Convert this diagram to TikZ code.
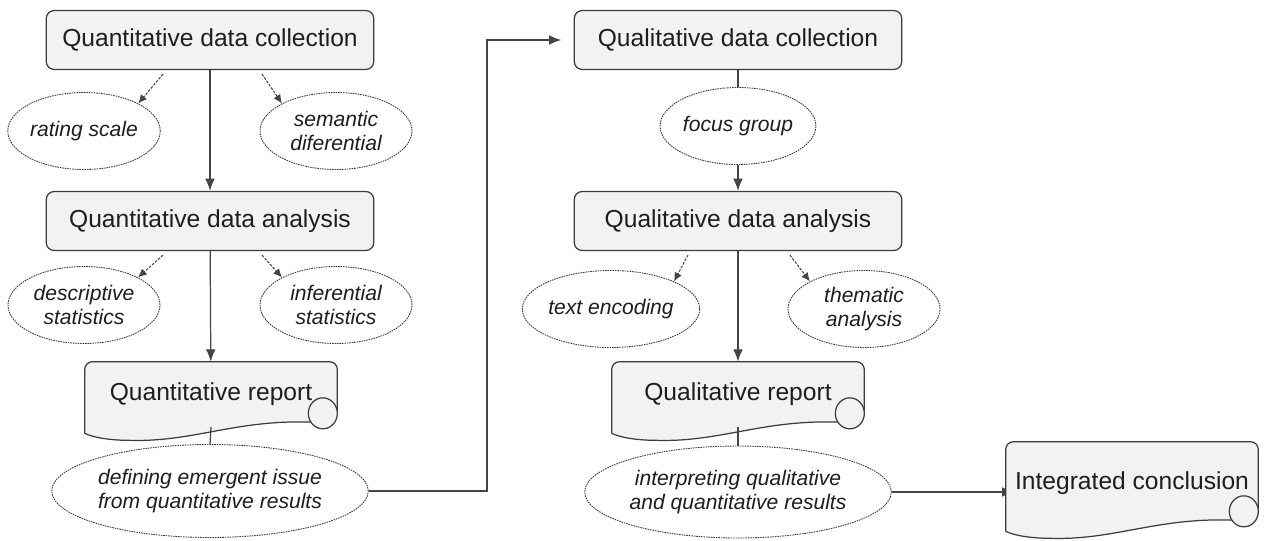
\documentclass[tikz,border=0pt]{standalone}
\usepackage{fontspec}
\setmainfont{Liberation Sans}
\usetikzlibrary{arrows.meta,calc,shapes.geometric}

\definecolor{boxfill}{HTML}{F2F2F2}
\definecolor{boxline}{HTML}{3C3C3C}
\definecolor{arrowline}{HTML}{454545}
\definecolor{inkcol}{HTML}{1E1E1E}

\tikzset{
  stagebox/.style={rectangle, rounded corners=4.5pt, draw=boxline, line width=0.7pt,
    fill=boxfill, text=inkcol, minimum width=6.55cm, minimum height=1.18cm,
    font=\fontsize{14}{16}\selectfont},
  docnode/.style={rectangle, inner sep=0pt, minimum width=5.04cm, text=inkcol,
    text height=0.76cm, text depth=0.64cm, font=\fontsize{14}{16}\selectfont},
  methodell/.style={ellipse, inner sep=0pt, draw=boxline, line width=0.5pt,
    dash pattern=on 0.9pt off 0.5pt, fill=white, text=inkcol, align=center,
    minimum width=3.04cm, minimum height=1.54cm,
    font=\fontsize{12}{14}\selectfont\itshape},
  reportline/.style={draw=boxline, line width=0.7pt, fill=boxfill},
  flow/.style={draw=arrowline, line width=0.7pt, -{Latex[length=7pt,width=5.5pt]}},
  link/.style={draw=arrowline, line width=0.7pt},
  uses/.style={draw=arrowline, line width=0.6pt, dash pattern=on 1.5pt off 0.8pt,
    -{Latex[length=5pt,width=4.5pt]}},
}

% contorno de documento (hoja ondulada con rizo)
\newcommand{\reportoutline}[1]{%
  \filldraw[reportline] ($(#1.south west)+(0,1)$)
    [rounded corners=4.5pt] -- (#1.north west) -- (#1.north east)
    [sharp corners] -- ($(#1.south east)+(0,-19)$) -- ($(#1.south east)+(-20,-10)$)
    .. controls ($(#1.south east)+(-100,-14)$) and ($(#1.south west)+(110,10)$) ..
    ($(#1.south west)+(45,8)$)
    .. controls ($(#1.south west)+(25,8)$) and ($(#1.south west)+(8,5)$) ..
    ($(#1.south west)+(0,1)$);
  \filldraw[reportline] ($(#1.south east)+(-14.5,-19)$) ellipse [x radius=0.29cm, y radius=0.31cm];
  \path (#1.center) node[docnode] {\csname reporttext#1\endcsname};
}

\begin{document}
\begin{tikzpicture}[x=0.02cm, y=-0.02cm]
  \useasboundingbox (0,0) rectangle (1268,541);

  % Fase cuantitativa
  \node[stagebox] (qncoll) at (210,40) {Quantitative data collection};
  \node[methodell] (rating) at (84,131) {rating scale};
  \node[methodell] (semdif) at (336,131) {semantic\\diferential};
  \node[stagebox] (qnanal) at (210,221) {Quantitative data analysis};
  \node[methodell] (descr) at (84,305) {descriptive\\statistics};
  \node[methodell] (infer) at (336,305) {inferential\\statistics};
  \node[docnode] (qnrep) at (211,397) {};
  \node[methodell, minimum width=5.88cm, minimum height=1.86cm] (emerg) at (210,491)
    {defining emergent issue\\from quantitative results};

  % Fase cualitativa
  \node[stagebox] (qlcoll) at (738,40) {Qualitative data collection};
  \node[methodell] (focus) at (738,126) {focus group};
  \node[stagebox] (qlanal) at (738,221) {Qualitative data analysis};
  \node[methodell] (encod) at (611,309) {text encoding};
  \node[methodell] (thema) at (864,309) {thematic\\analysis};
  \node[docnode] (qlrep) at (738,397) {};
  \node[methodell, minimum width=5.84cm, minimum height=1.84cm] (interp) at (738,492)
    {interpreting qualitative\\and quantitative results};

  % Conclusion
  \node[docnode, text height=0.86cm, text depth=0.9cm] (integ) at (1132,486) {};

  \coordinate (elbow) at (487,40);

  % Flechas principales
  \draw[flow] (qncoll) -- (qnanal);
  \draw[flow] (qnanal) -- (qnrep);
  \draw[flow] (qlanal) -- (qlrep);
  \draw[flow] (focus) -- (qlanal);
  \draw[link] (qlcoll) -- (focus);
  \draw[flow] (emerg.east) -| (elbow) -- ([xshift=-7pt]qlcoll.west);
  \draw[flow] (interp.east) -- ([xshift=5pt]interp.east -| integ.west);

  % Metodos (punteado)
  \draw[uses] ($(qncoll.south)+(-47,4)$) -- (rating.north east);
  \draw[uses] ($(qncoll.south)+(52,4)$) -- (semdif.north west);
  \draw[uses] ($(qnanal.south)+(-47,4)$) -- (descr.north east);
  \draw[uses] ($(qnanal.south)+(52,4)$) -- (infer.north west);
  \draw[uses] ($(qlanal.south)+(-50,4)$) -- (encod.north east);
  \draw[uses] ($(qlanal.south)+(52,4)$) -- (thema.north west);

  % Informes
  \def\reporttextqnrep{Quantitative report}
  \def\reporttextqlrep{Qualitative report}
  \def\reporttextinteg{Integrated conclusion}
  \reportoutline{qnrep}
  \reportoutline{qlrep}
  \reportoutline{integ}
  \draw[link] ([yshift=3pt]qnrep.south) -- (emerg.north);
  \draw[link] ([yshift=3pt]qlrep.south) -- (interp.north);
\end{tikzpicture}
\end{document}
